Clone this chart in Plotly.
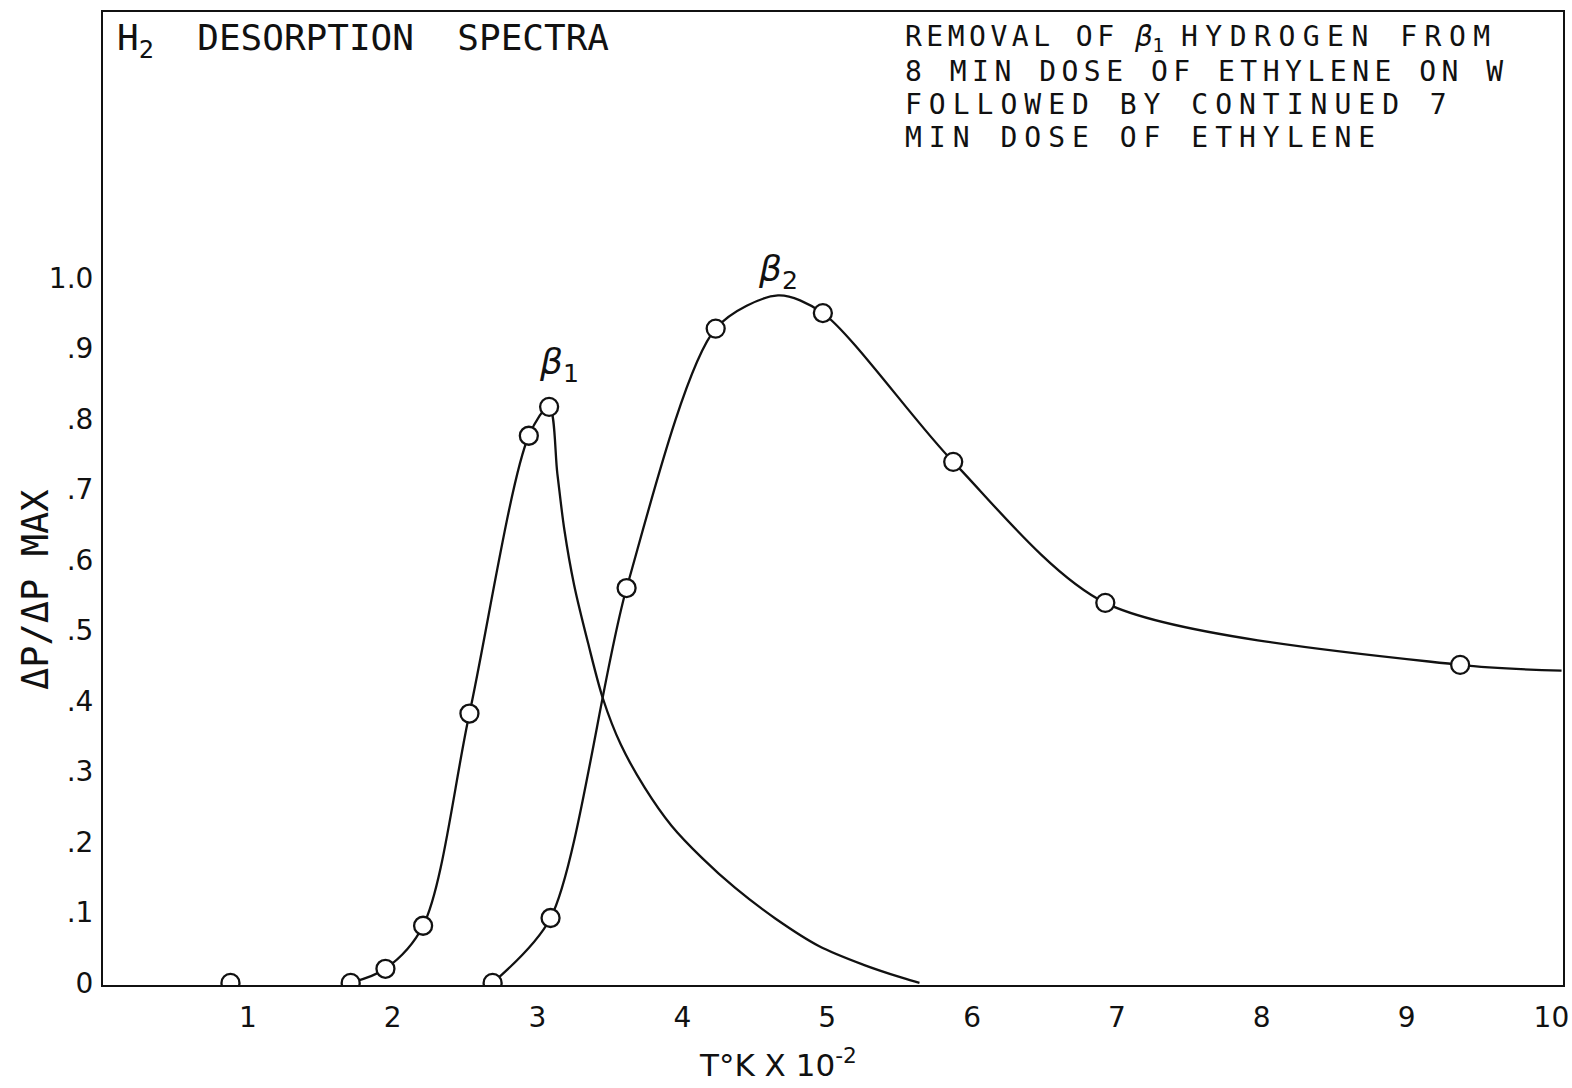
import plotly.graph_objects as go

# ---- data ----
# beta-1 measured points
b1_x = [0.88, 1.71, 1.95, 2.21, 2.53, 2.94, 3.08]
b1_y = [0.0, 0.0, 0.02, 0.081, 0.382, 0.776, 0.817]
# beta-1 drawn decay tail (no markers)
b1_tail_x = [3.137, 3.185, 3.253, 3.349, 3.452, 3.575, 3.740, 3.925, 4.137,
             4.363, 4.644, 4.945, 5.247, 5.521, 5.637]
b1_tail_y = [0.722, 0.643, 0.564, 0.482, 0.403, 0.338, 0.277, 0.223, 0.177,
             0.135, 0.091, 0.052, 0.026, 0.007, 0.0]

# beta-2 measured points
b2_x = [2.69, 3.09, 3.615, 4.23, 4.97, 5.87, 6.92, 9.37]
b2_y = [0.0, 0.092, 0.56, 0.928, 0.95, 0.739, 0.539, 0.451]
# beta-2 drawn curve extras (peak and end, no markers)
b2_peak_x = [4.66]
b2_peak_y = [0.975]
b2_end_x = [10.07]
b2_end_y = [0.443]

x_ticks = [1, 2, 3, 4, 5, 6, 7, 8, 9, 10]
x_ticktext = ["1", "2", "3", "4", "5", "6", "7", "8", "9", "10"]
y_ticks = [0, 0.1, 0.2, 0.3, 0.4, 0.5, 0.6, 0.7, 0.8, 0.9, 1.0]
y_ticktext = ["0", ".1", ".2", ".3", ".4", ".5", ".6", ".7", ".8", ".9", "1.0"]

FONT = "DejaVu Sans"
MONO = "DejaVu Sans Mono"
INK = "#111111"
NB = "\u00a0"

fig = go.Figure()

# beta-1 curve (starts at the first point that leaves the baseline)
fig.add_trace(go.Scatter(
    x=b1_x[1:] + b1_tail_x, y=b1_y[1:] + b1_tail_y, mode="lines",
    line=dict(color=INK, width=2.3, shape="spline", smoothing=0.9),
    hoverinfo="skip", showlegend=False))
# beta-2 curve
c2x = b2_x[:4] + b2_peak_x + b2_x[4:] + b2_end_x
c2y = b2_y[:4] + b2_peak_y + b2_y[4:] + b2_end_y
fig.add_trace(go.Scatter(
    x=c2x, y=c2y, mode="lines",
    line=dict(color=INK, width=2.3, shape="spline", smoothing=0.8),
    hoverinfo="skip", showlegend=False))
# markers
for xs, ys in ((b1_x, b1_y), (b2_x, b2_y)):
    fig.add_trace(go.Scatter(
        x=xs, y=ys, mode="markers",
        marker=dict(symbol="circle", size=18, color="white",
                    line=dict(color=INK, width=2.3)),
        showlegend=False))

fig.update_xaxes(range=[0, 10.08], tickvals=x_ticks, ticktext=x_ticktext,
                 showgrid=False, zeroline=False, ticks="", automargin=False,
                 showline=True, linecolor=INK, linewidth=2, mirror=True,
                 tickfont=dict(family=FONT, size=28, color=INK),
                 ticklabelstandoff=6, ticklabeloverflow="allow")
fig.update_yaxes(range=[-0.003, 1.377], tickvals=y_ticks, ticktext=y_ticktext,
                 showgrid=False, zeroline=False, ticks="", automargin=False,
                 showline=True, linecolor=INK, linewidth=2, mirror=True,
                 tickfont=dict(family=FONT, size=28, color=INK),
                 ticklabelstandoff=2)


def spaced(s, px):
    return '<span style="letter-spacing:%.1fpx">%s</span>' % (px, s)


right_lines = [
    spaced("REMOVAL" + NB + "OF", 4.5) + NB + "<i>β</i><sub>1</sub>" + NB
    + spaced("HYDROGEN" + NB + "FROM", 7.5),
    spaced("8" + NB + "MIN" + NB + "DOSE" + NB + "OF" + NB + "ETHYLENE"
           + NB + "ON" + NB + "W", 5.5),
    spaced("FOLLOWED" + NB + "BY" + NB + "CONTINUED" + NB + "7", 7.0),
    spaced("MIN" + NB + "DOSE" + NB + "OF" + NB + "ETHYLENE", 7.0),
]
line_px = [38, 71, 104, 137]

anns = [
    dict(text="H<sub>2</sub>" + NB * 2 + "DESORPTION" + NB * 2 + "SPECTRA",
         xref="paper", yref="paper", x=(115 - 103) / 1460, y=(985 - 40) / 973,
         xanchor="left", yanchor="middle",
         showarrow=False, font=dict(family=MONO, size=36, color=INK)),
    dict(text="<i>β</i><sub>1</sub>", xref="x", yref="y", x=3.15, y=0.877,
         showarrow=False, font=dict(family=FONT, size=36, color=INK)),
    dict(text="<i>β</i><sub>2</sub>", xref="x", yref="y", x=4.66, y=1.009,
         showarrow=False, font=dict(family=FONT, size=36, color=INK)),
    dict(text="T°K X 10<sup>-2</sup>", xref="paper", yref="paper",
         x=(778 - 103) / 1460, y=0, yshift=-78, xanchor="center", yanchor="middle",
         showarrow=False, font=dict(family=FONT, size=31, color=INK)),
    dict(text="ΔP/ΔP MAX", xref="paper", yref="paper",
         x=0, xshift=-68, y=(985 - 590) / 973, xanchor="center", yanchor="middle",
         textangle=-90, showarrow=False, font=dict(family=MONO, size=37, color=INK)),
]
for t, p in zip(right_lines, line_px):
    anns.append(dict(text=t, xref="paper", yref="paper",
                     x=(903 - 103) / 1460, y=(985 - p) / 973,
                     xanchor="left", yanchor="middle", showarrow=False,
                     font=dict(family=MONO, size=28, color=INK)))

fig.update_layout(
    width=1572, height=1088,
    margin=dict(l=103, r=9, t=12, b=103),
    paper_bgcolor="white", plot_bgcolor="white",
    annotations=anns, showlegend=False,
)

fig.write_html("out.html")
